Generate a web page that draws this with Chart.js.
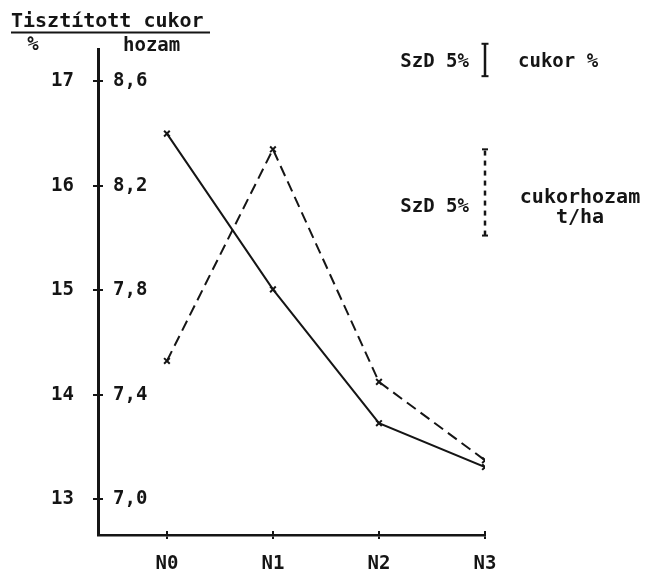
<!DOCTYPE html>
<html>
<head>
<meta charset="utf-8">
<script src="https://cdn.jsdelivr.net/npm/chart.js@4"></script>
<style>
  html, body { margin: 0; padding: 0; background: #fff; }
  #wrap { width: 645px; height: 571px; }
</style>
</head>
<body>
<div id="wrap"><canvas id="chart" width="645" height="571"></canvas></div>
<script>
// ==========================
// DATA
// ==========================
const categories = ['N0', 'N1', 'N2', 'N3'];
const cukorPct = [16.50, 15.01, 13.73, 13.31];   // tisztított cukor % (solid)
const cukorHozam = [7.53, 8.34, 7.45, 7.15];     // cukorhozam t/ha (dashed)
const pctTicks = [13, 14, 15, 16, 17];
const hozamTicks = [7.0, 7.4, 7.8, 8.2, 8.6];
const szdPct = [17.05, 17.36];                   // SzD 5% bar, cukor %
const szdHozam = [8.01, 8.34];                   // SzD 5% bar, cukorhozam

const INK = '#151515';
const FONT = '"DejaVu Sans Mono", monospace';
const tickFont = { family: FONT, size: 19, weight: 'bold' };

// left axis 13..17 maps onto right axis 7,0..8,6
const pctMin = 12.66, pctMax = 17.31;
const toHozam = v => 7.0 + (v - 13) * 0.4;

const fmtComma = v => v.toFixed(1).replace('.', ',');

// ==========================
// TEXT (header + SzD labels)
// ==========================
const annotations = {
    id: 'annotations',
    afterDraw(chart) {
        const ctx = chart.ctx;
        const x = chart.scales.x, y = chart.scales.y, y2 = chart.scales.y2;
        ctx.save();
        ctx.fillStyle = INK;
        ctx.strokeStyle = INK;
        ctx.textBaseline = 'middle';

        // header
        ctx.textAlign = 'left';
        ctx.font = 'bold 20px ' + FONT;
        ctx.fillText('Tisztított cukor', 11, 22);
        ctx.font = 'bold 19px ' + FONT;
        ctx.lineWidth = 2;
        ctx.beginPath();
        ctx.moveTo(11, 32.5);
        ctx.lineTo(210, 32.5);
        ctx.stroke();
        ctx.textAlign = 'center';
        ctx.fillText('%', 33, 45);
        ctx.textAlign = 'left';
        ctx.fillText('hozam', 123, 46);

        // inner half of the y tick crosses
        ctx.lineWidth = 2;
        pctTicks.forEach(v => {
            const py = Math.round(y.getPixelForValue(v));
            ctx.beginPath();
            ctx.moveTo(y.right, py);
            ctx.lineTo(y.right + 5, py);
            ctx.stroke();
        });

        // SzD legend
        const bx = x.getPixelForValue(3);
        const m1 = (y.getPixelForValue(szdPct[0]) + y.getPixelForValue(szdPct[1])) / 2;
        ctx.textAlign = 'right';
        ctx.fillText('SzD 5%', bx - 16, m1 + 2);
        ctx.textAlign = 'left';
        ctx.fillText('cukor %', bx + 33, m1 + 2);

        const b2 = y2.getPixelForValue(szdHozam[0]);
        ctx.textAlign = 'right';
        ctx.fillText('SzD 5%', bx - 16, b2 - 28);
        ctx.textAlign = 'center';
        ctx.font = 'bold 20px ' + FONT;
        ctx.fillText('cukorhozam', bx + 95, b2 - 38);
        ctx.fillText('t/ha', bx + 95, b2 - 18);
        ctx.restore();
    }
};

// ==========================
// CHART
// ==========================
const canvas = document.getElementById('chart');

new Chart(canvas, {
    type: 'line',
    data: {
        datasets: [{
            label: 'cukor %',
            data: cukorPct.map((v, i) => ({ x: i, y: v })),
            yAxisID: 'y',
            borderColor: INK,
            borderWidth: 2,
            pointStyle: 'crossRot',
            pointRadius: 4,
            pointBorderWidth: 2,
            pointBorderColor: INK,
            tension: 0
        }, {
            label: 'cukorhozam t/ha',
            data: cukorHozam.map((v, i) => ({ x: i, y: v })),
            yAxisID: 'y2',
            borderColor: INK,
            borderWidth: 2,
            borderDash: [11, 6],
            pointStyle: 'crossRot',
            pointRadius: 4,
            pointBorderWidth: 2,
            pointBorderColor: INK,
            tension: 0
        }, {
            label: 'SzD 5% cukor %',
            data: szdPct.map(v => ({ x: 3, y: v })),
            yAxisID: 'y',
            borderColor: INK,
            borderWidth: 2.5,
            pointStyle: 'line',
            pointRadius: 3.5,
            pointBorderWidth: 2,
            pointBorderColor: INK,
            clip: false
        }, {
            label: 'SzD 5% cukorhozam',
            data: szdHozam.map(v => ({ x: 3, y: v })),
            yAxisID: 'y2',
            borderColor: INK,
            borderWidth: 2.5,
            borderDash: [5, 5],
            pointStyle: 'line',
            pointRadius: 3,
            pointBorderWidth: 2,
            pointBorderColor: INK,
            clip: false
        }]
    },
    options: {
        responsive: false,
        animation: false,
        events: [],
        layout: { padding: { top: 49, right: 160, left: 0, bottom: 0 } },
        plugins: {
            legend: { display: false },
            tooltip: { enabled: false }
        },
        scales: {
            x: {
                type: 'linear',
                weight: 1,
                min: -0.65,
                max: 3,
                afterBuildTicks: s => { s.ticks = categories.map((_, i) => ({ value: i })); },
                afterFit: s => { s.height = 36; },
                ticks: {
                    callback: v => categories[v],
                    font: tickFont,
                    color: INK,
                    padding: 14,
                    maxRotation: 0
                },
                grid: { drawOnChartArea: false, tickLength: 4, color: INK, lineWidth: 2 },
                border: { color: INK, width: 2.5 }
            },
            // inner half of the x tick crosses
            x2: {
                type: 'linear',
                position: 'bottom',
                weight: 0,
                min: -0.65,
                max: 3,
                afterBuildTicks: s => { s.ticks = categories.map((_, i) => ({ value: i })); },
                afterFit: s => { s.height = 0; },
                ticks: { display: false },
                grid: { drawOnChartArea: false, tickLength: -4, color: INK, lineWidth: 2 },
                border: { display: false }
            },
            y: {
                position: 'left',
                weight: 1,
                min: pctMin,
                max: pctMax,
                afterBuildTicks: s => { s.ticks = pctTicks.map(v => ({ value: v })); },
                afterFit: s => { s.width = 98; },
                ticks: {
                    callback: v => String(v),
                    font: tickFont,
                    color: INK,
                    padding: 19
                },
                grid: { drawOnChartArea: false, tickLength: 5, color: INK, lineWidth: 2 },
                border: { color: INK, width: 3 }
            },
            y2: {
                position: 'left',
                weight: 0,
                min: toHozam(pctMin),
                max: toHozam(pctMax),
                afterBuildTicks: s => { s.ticks = hozamTicks.map(v => ({ value: v })); },
                afterFit: s => { s.width = 0; },
                ticks: {
                    callback: v => fmtComma(v),
                    mirror: true,
                    font: tickFont,
                    color: INK,
                    padding: 15
                },
                grid: { display: false },
                border: { display: false }
            }
        }
    },
    plugins: [annotations]
});
</script>
</body>
</html>
